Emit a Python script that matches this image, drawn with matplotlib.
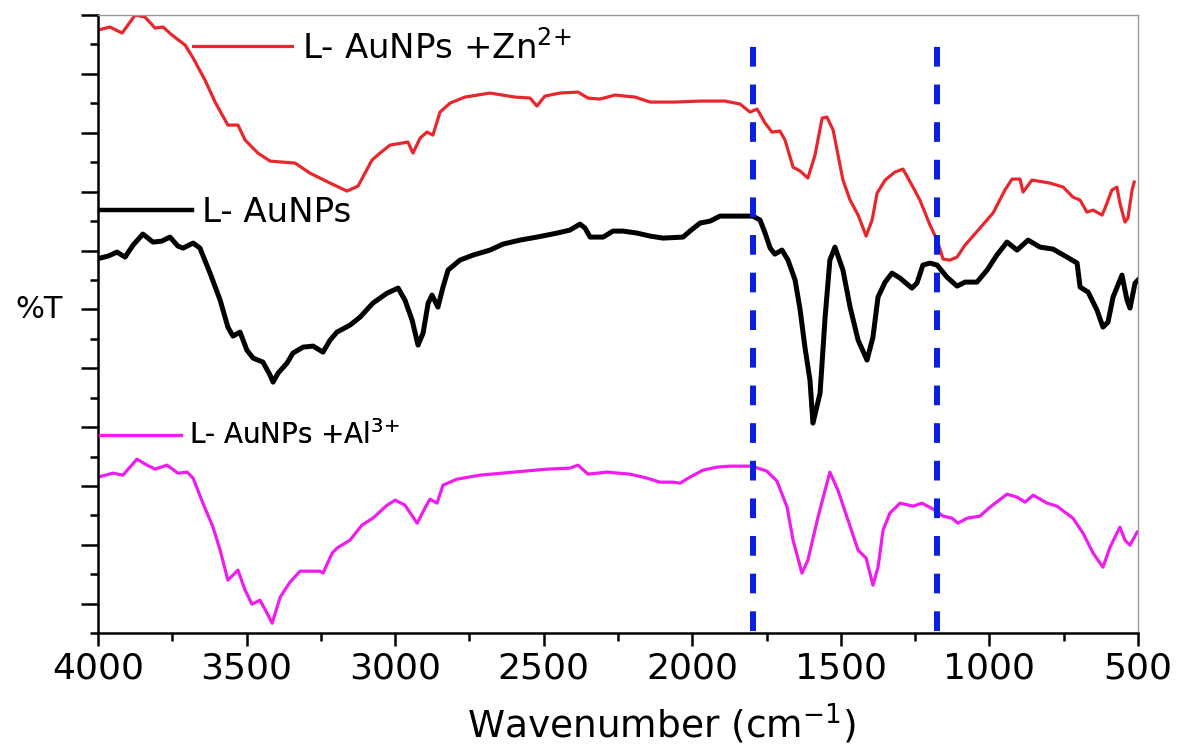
import numpy as np
import matplotlib
matplotlib.use("Agg")
import matplotlib.pyplot as plt
from matplotlib.lines import Line2D
from matplotlib.ticker import MultipleLocator, FixedLocator, NullFormatter

plt.rcParams["font.family"] = ["DejaVu Sans"]
plt.rcParams["mathtext.fontset"] = "custom"
plt.rcParams["mathtext.rm"] = "DejaVu Sans"
plt.rcParams["mathtext.default"] = "regular"

# =========================================================
# Dados (numero de onda em cm-1, %T em unidades arbitrarias)
# =========================================================
zn_wn = [4000, 3960, 3919, 3875, 3842, 3808, 3781, 3751, 3707, 3680, 3640, 3606,
         3563, 3529, 3505, 3462, 3421, 3381, 3337, 3287, 3219, 3162, 3125, 3078,
         3051, 3017, 2957, 2940, 2916, 2893, 2873, 2849, 2815, 2765, 2681, 2597,
         2546, 2523, 2496, 2445, 2385, 2351, 2311, 2260, 2193, 2142, 2058, 1974,
         1890, 1839, 1806, 1782, 1755, 1732, 1705, 1688, 1661, 1637, 1611, 1587,
         1563, 1547, 1526, 1493, 1469, 1442, 1415, 1395, 1378, 1351, 1318, 1291,
         1261, 1234, 1200, 1176, 1156, 1133, 1109, 1082, 1032, 988, 948, 924,
         897, 887, 857, 796, 752, 719, 695, 672, 651, 621, 611, 588, 571, 561,
         544, 534, 520, 513]
zn_t = [603, 606, 600, 618, 616, 605, 606, 598, 588, 575, 553, 531,
        508, 508, 493, 480, 472, 471, 470, 460, 450, 442, 447, 473,
        480, 488, 491, 480, 495, 501, 498, 521, 530, 536, 540, 536,
        535, 527, 537, 540, 541, 535, 534, 538, 536, 531, 531, 532,
        532, 529, 521, 524, 510, 501, 502, 493, 466, 462, 455, 478,
        515, 516, 503, 453, 433, 418, 397, 413, 440, 453, 461, 464,
        448, 433, 408, 393, 374, 373, 376, 388, 405, 420, 443, 454,
        454, 441, 453, 450, 446, 436, 433, 421, 423, 418, 425, 443, 446, 430,
        411, 415, 443, 451]

l_wn = [3993, 3966, 3936, 3909, 3882, 3849, 3815, 3785, 3758, 3731, 3714, 3680,
        3657, 3623, 3589, 3563, 3546, 3522, 3499, 3478, 3445, 3421, 3411, 3394,
        3364, 3344, 3310, 3276, 3243, 3219, 3196, 3152, 3118, 3075, 3027, 2990,
        2967, 2943, 2923, 2906, 2889, 2876, 2856, 2839, 2822, 2782, 2738, 2681,
        2637, 2580, 2523, 2489, 2455, 2412, 2378, 2361, 2344, 2321, 2300, 2267,
        2233, 2186, 2142, 2099, 2031, 2008, 1974, 1940, 1907, 1850, 1796, 1772,
        1755, 1738, 1722, 1698, 1678, 1654, 1637, 1621, 1604, 1594, 1570, 1553,
        1537, 1520, 1493, 1469, 1442, 1412, 1392, 1375, 1351, 1328, 1301, 1261,
        1244, 1224, 1200, 1176, 1143, 1109, 1082, 1042, 1008, 975, 941, 907,
        870, 830, 786, 739, 705, 695, 668, 638, 618, 601, 584, 554,
        537, 527, 510, 500]
l_t = [375, 377, 381, 376, 388, 399, 391, 392, 396, 387, 385, 390,
       385, 360, 333, 306, 297, 301, 283, 275, 271, 258, 251, 260,
       270, 280, 286, 287, 281, 293, 301, 308, 316, 330, 340, 345,
       333, 313, 288, 300, 330, 338, 326, 346, 363, 373, 378, 383,
       389, 393, 396, 398, 400, 403, 409, 405, 396, 396, 396, 402,
       402, 400, 397, 395, 396, 402, 410, 412, 417, 417, 417, 413,
       400, 385, 379, 383, 373, 353, 323, 286, 253, 210, 240, 316,
       373, 386, 363, 326, 293, 273, 296, 336, 351, 360, 355, 345,
       350, 368, 370, 368, 356, 347, 351, 351, 363, 378, 391, 383,
       393, 386, 384, 376, 370, 346, 341, 323, 306, 311, 336, 358,
       333, 325, 350, 353]

al_wn = [4000, 3950, 3916, 3869, 3835, 3808, 3768, 3731, 3700, 3680, 3647, 3613,
         3589, 3563, 3529, 3505, 3482, 3455, 3431, 3414, 3387, 3354, 3320, 3253,
         3243, 3212, 3196, 3152, 3112, 3075, 3027, 3000, 2967, 2926, 2900, 2883,
         2859, 2839, 2792, 2714, 2603, 2489, 2412, 2385, 2351, 2287, 2210, 2152,
         2109, 2065, 2041, 2008, 1964, 1917, 1873, 1799, 1749, 1715, 1681, 1661,
         1631, 1611, 1577, 1537, 1510, 1476, 1442, 1415, 1392, 1375, 1358, 1335,
         1301, 1257, 1227, 1183, 1156, 1126, 1106, 1075, 1032, 998, 941, 907,
         880, 853, 806, 773, 719, 685, 651, 618, 594, 561, 544, 527, 503]
al_t = [156, 160, 158, 174, 168, 164, 168, 160, 161, 155, 130, 106,
        83, 53, 63, 43, 29, 33, 20, 10, 36, 51, 62, 62,
        60, 80, 85, 93, 108, 115, 128, 133, 128, 110, 125, 134,
        130, 148, 154, 158, 161, 164, 165, 168, 159, 161, 159, 155,
        151, 151, 150, 156, 163, 166, 167, 167, 162, 152, 126, 93,
        60, 73, 116, 161, 143, 113, 83, 75, 48, 66, 103, 120,
        130, 127, 130, 123, 117, 115, 110, 115, 117, 126, 139, 136,
        131, 138, 130, 127, 115, 100, 80, 66, 86, 106, 93, 88, 101]

marcas_wn = [1795, 1176]

rotulos = ["L- AuNPs +Zn$^{2{+}}$", "L- AuNPs", "L- AuNPs +Al$^{3{+}}$"]
cores = ["#e8262c", "#000000", "#ee1cee"]

# =========================================================
# Figura
# =========================================================
fig = plt.figure(figsize=(11.81, 7.52), dpi=100)
ax = fig.add_axes([0.083, 0.158, 0.8806, 0.822])

ax.plot(zn_wn, zn_t, color=cores[0], lw=2.3, solid_joinstyle="round")
ax.plot(l_wn, l_t, color=cores[1], lw=3.6, solid_joinstyle="round")
ax.plot(al_wn, al_t, color=cores[2], lw=2.3, solid_joinstyle="round")

for wn in marcas_wn:
    ax.axvline(wn, ymin=0.003, ymax=0.968, color="#0a1ee0", lw=4.3,
               linestyle=(0, (3.3, 3.0)))

ax.set_xlim(4000, 500)
ax.set_ylim(0, 618)

passo = 618 / 21
ax.xaxis.set_major_locator(MultipleLocator(500))
ax.xaxis.set_minor_locator(MultipleLocator(250))
ax.yaxis.set_major_locator(FixedLocator(passo * np.arange(1, 22, 2)))
ax.yaxis.set_minor_locator(FixedLocator(passo * np.arange(0, 21, 2)))
ax.yaxis.set_major_formatter(NullFormatter())

ax.tick_params(axis="both", which="major", direction="out", width=1.8,
               labelsize=26, pad=4)
ax.tick_params(axis="x", which="major", length=9)
ax.tick_params(axis="y", which="major", length=12)
ax.tick_params(axis="both", which="minor", direction="out", width=1.8, length=6)
ax.tick_params(top=False, right=False, which="both")

for lado in ["left", "bottom"]:
    ax.spines[lado].set_linewidth(1.8)
    ax.spines[lado].set_color("black")
for lado in ["top", "right"]:
    ax.spines[lado].set_linewidth(1.0)
    ax.spines[lado].set_color("#9a9a9a")

ax.set_xlabel("Wavenumber (cm$^{-1}$)", fontsize=27)
ax.xaxis.set_label_coords(0.542, -0.11)
ax.set_ylabel("%T", fontsize=22, rotation=0, ha="right", va="center")
ax.yaxis.set_label_coords(-0.034, 0.523)

# legendas soltas (uma por curva)
posicoes = [(0.0913, 0.948), (0.002, 0.681), (0.002, 0.320)]
tamanhos = [24.5, 24.5, 20]
larguras = [2.3, 3.2, 2.3]
comp = [2.9, 2.7, 2.9]
for rot, cor, pos, fs, lw, hl in zip(rotulos, cores, posicoes, tamanhos, larguras, comp):
    h = Line2D([], [], color=cor, lw=lw)
    leg = ax.legend([h], [rot], loc="center left", bbox_to_anchor=pos,
                    frameon=False, fontsize=fs, handlelength=hl,
                    handletextpad=0.3, borderpad=0, borderaxespad=0)
    ax.add_artist(leg)

fig.savefig("out.png", dpi=100)
plt.close(fig)
